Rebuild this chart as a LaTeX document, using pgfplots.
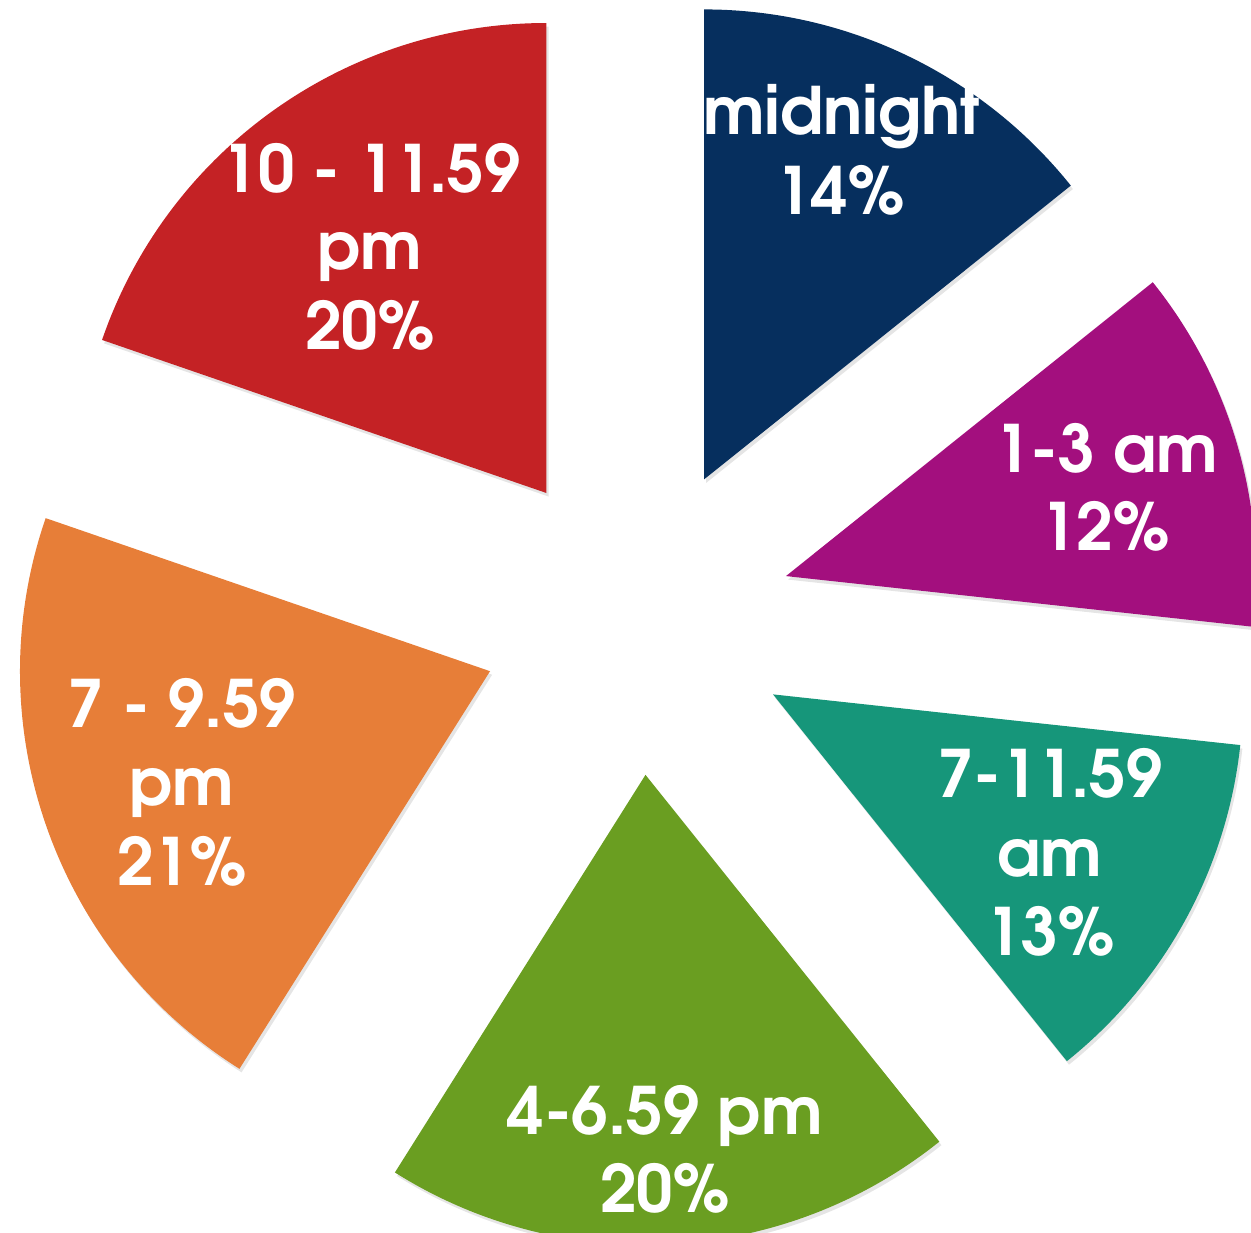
\documentclass[border=0pt]{standalone}
\usepackage{pgfplots}
\pgfplotsset{compat=1.18}
\usepackage{pgfplotstable}
\usepackage{fontspec}
\setmainfont{TeX Gyre Adventor}

\definecolor{slice0}{HTML}{062F5E}
\definecolor{slice1}{HTML}{A30F7E}
\definecolor{slice2}{HTML}{16967A}
\definecolor{slice3}{HTML}{6A9E21}
\definecolor{slice4}{HTML}{E77E38}
\definecolor{slice5}{HTML}{C42225}

% share of each time band (%), clockwise from 12 o'clock
\pgfplotstableread{
idx pct
0 14.25
1 12.47
2 12.53
3 19.70
4 21.33
5 19.72
}\pietable

\def\pcx{6.367}\def\pcy{-6.196}\def\pexp{1.555}
\def\cum{0}
\pgfplotsforeachungrouped \i in {0,...,5}{%
  \pgfplotstablegetelem{\i}{pct}\of\pietable
  \pgfmathsetmacro\sa{90-3.6*\cum}%
  \pgfmathsetmacro\newcum{\cum+\pgfplotsretval}%
  \pgfmathsetmacro\ea{90-3.6*\newcum}%
  \pgfmathsetmacro\ma{(\sa+\ea)/2}%
  \pgfmathsetmacro\ox{\pcx+\pexp*cos(\ma)}%
  \pgfmathsetmacro\oy{\pcy+\pexp*sin(\ma)}%
  \expandafter\xdef\csname pieSA\i\endcsname{\sa}%
  \expandafter\xdef\csname pieEA\i\endcsname{\ea}%
  \expandafter\xdef\csname pieOX\i\endcsname{\ox}%
  \expandafter\xdef\csname pieOY\i\endcsname{\oy}%
  \let\cum\newcum
}
\newcommand\pv[2]{\csname pie#1#2\endcsname}

\begin{document}
\begin{tikzpicture}
\begin{axis}[x=1cm, y=1cm, xmin=0, xmax=12.51, ymin=-12.32, ymax=0,
  hide axis, clip=true]
\pgfplotsinvokeforeach{0,...,5}{%
  \fill[black, opacity=0.10] ([xshift=0.6pt,yshift=-1.0pt]axis cs:\pv{OX}{#1},\pv{OY}{#1})
     -- ++(\pv{SA}{#1}:4.70cm) arc[start angle=\pv{SA}{#1}, end angle=\pv{EA}{#1}, radius=4.70cm] -- cycle;
  \fill[slice#1] (axis cs:\pv{OX}{#1},\pv{OY}{#1})
     -- ++(\pv{SA}{#1}:4.70cm) arc[start angle=\pv{SA}{#1}, end angle=\pv{EA}{#1}, radius=4.70cm] -- cycle;
}
\tikzset{lab/.style={anchor=base, text=white, inner sep=0pt, font=\bfseries\fontsize{18.6}{22}\selectfont}}
\node[lab] at (axis cs:8.42,-1.35) {midnight};
\node[lab] at (axis cs:8.40,-2.15) {14\%};
\node[lab] at (axis cs:11.06,-4.72) {1-3 am};
\node[lab] at (axis cs:11.05,-5.50) {12\%};
\node[lab] at (axis cs:10.50,-7.97) {7-11.59};
\node[lab] at (axis cs:10.50,-8.76) {am};
\node[lab] at (axis cs:10.50,-9.55) {13\%};
\node[lab] at (axis cs:6.65,-11.34) {4-6.59 pm};
\node[lab] at (axis cs:6.65,-12.12) {20\%};
\node[lab] at (axis cs:1.82,-7.27) {7 - 9.59};
\node[lab] at (axis cs:1.82,-8.05) {pm};
\node[lab] at (axis cs:1.82,-8.85) {21\%};
\node[lab] at (axis cs:3.71,-1.93) {10 - 11.59};
\node[lab] at (axis cs:3.70,-2.70) {pm};
\node[lab] at (axis cs:3.70,-3.49) {20\%};
\end{axis}
\pgfresetboundingbox
\path[use as bounding box] (current axis.south west) rectangle (current axis.north east);
\end{tikzpicture}
\end{document}
